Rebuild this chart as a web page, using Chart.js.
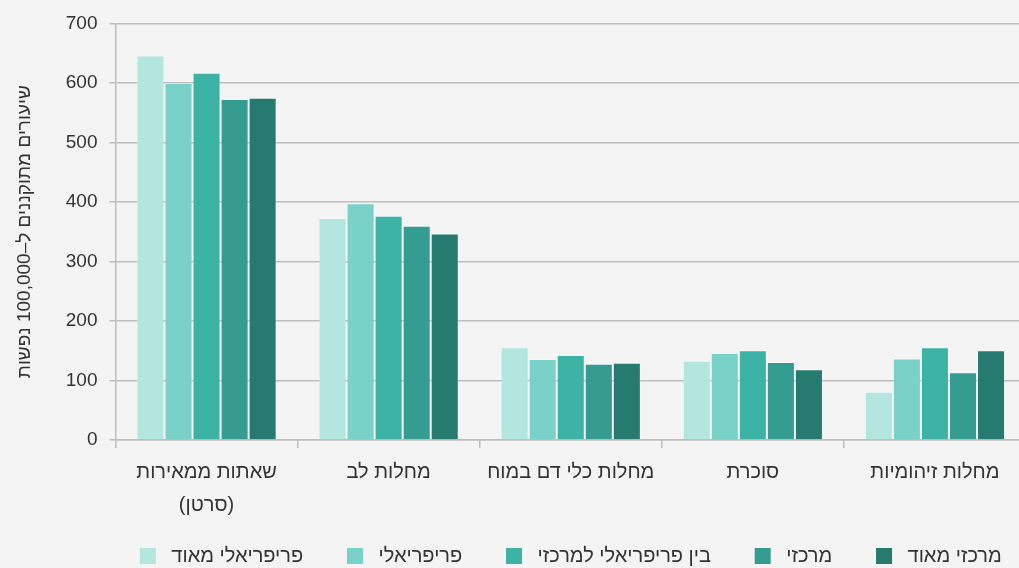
<!DOCTYPE html>
<html>
<head>
<meta charset="utf-8">
<script src="https://cdn.jsdelivr.net/npm/chart.js@4"></script>
<style>
  html, body { margin: 0; padding: 0; background: #f4f4f4; overflow: hidden; }
  #wrap { width: 1036px; height: 576px; }
</style>
</head>
<body>
<div id="wrap"><canvas id="myChart"></canvas></div>
<script>
var categories = [
    ['שאתות ממאירות', '(סרטן)'],
    'מחלות לב',
    'מחלות כלי דם במוח',
    'סוכרת',
    'מחלות זיהומיות'
];
var seriesNames = ['פריפריאלי מאוד', 'פריפריאלי', 'בין פריפריאלי למרכזי', 'מרכזי', 'מרכזי מאוד'];
var veryPeripheral = [646, 373, 156, 133, 81];
var peripheral = [600, 398, 136, 146, 137];
var between = [617, 377, 143, 151, 156];
var central = [573, 360, 128, 131, 114];
var veryCentral = [575, 347, 130, 119, 151];
var yTicks = [0, 100, 200, 300, 400, 500, 600, 700];
var colors = ['#b3e6df', '#79d1c7', '#3db3a6', '#349c90', '#277a70'];

var values = [veryPeripheral, peripheral, between, central, veryCentral];
var datasets = values.map(function (v, i) {
    return {
        label: seriesNames[i],
        data: v,
        backgroundColor: colors[i],
        borderColor: 'rgba(255,255,255,0.25)',
        borderWidth: 1,
        categoryPercentage: 0.77,
        barPercentage: 1.0
    };
});

var font = "'Liberation Sans', Arial, sans-serif";
var ctx = document.getElementById('myChart');
var myChart = new Chart(ctx, {
    type: 'bar',
    data: { labels: categories, datasets: datasets },
    options: {
        responsive: true,
        maintainAspectRatio: false,
        animation: false,
        layout: { padding: { top: 20, right: 10, left: 13, bottom: 0 } },
        plugins: {
            tooltip: { enabled: false },
            legend: {
                position: 'bottom',
                fullSize: false,
                labels: {
                    boxWidth: 16,
                    boxHeight: 16,
                    padding: 16,
                    color: '#333',
                    font: { family: font, size: 20 },
                    generateLabels: function (chart) {
                        var items = Chart.defaults.plugins.legend.labels.generateLabels(chart);
                        items.forEach(function (it, i) {
                            // spacing around the text, RTL labels
                            it.text = ' ' + it.text + (i < items.length - 1 ? '     ' : '');
                            it.fillStyle = colors[i];
                            it.strokeStyle = colors[i];
                            it.lineWidth = 0;
                        });
                        return items;
                    }
                }
            }
        },
        scales: {
            x: {
                grid: {
                    offset: true,
                    drawOnChartArea: false,
                    color: '#bdbdbd',
                    lineWidth: 1.5,
                    tickLength: 8
                },
                border: { color: '#bdbdbd', width: 1.5 },
                ticks: {
                    color: '#333',
                    padding: 8,
                    font: { family: font, size: 20, lineHeight: 1.65 }
                }
            },
            y: {
                min: 0,
                max: 700,
                afterBuildTicks: function (axis) {
                    axis.ticks = yTicks.map(function (t) { return { value: t }; });
                },
                grid: {
                    color: '#bdbdbd',
                    lineWidth: 1.5,
                    tickLength: 6
                },
                border: { color: '#bdbdbd', width: 1.5 },
                ticks: {
                    color: '#333',
                    padding: 12,
                    font: { family: font, size: 19 }
                },
                title: {
                    display: true,
                    text: 'שיעורים מתוקננים ל–100,000 נפשות',
                    color: '#333',
                    padding: { top: 0, bottom: 18 },
                    font: { family: font, size: 19 }
                }
            }
        }
    }
});
</script>
</body>
</html>
